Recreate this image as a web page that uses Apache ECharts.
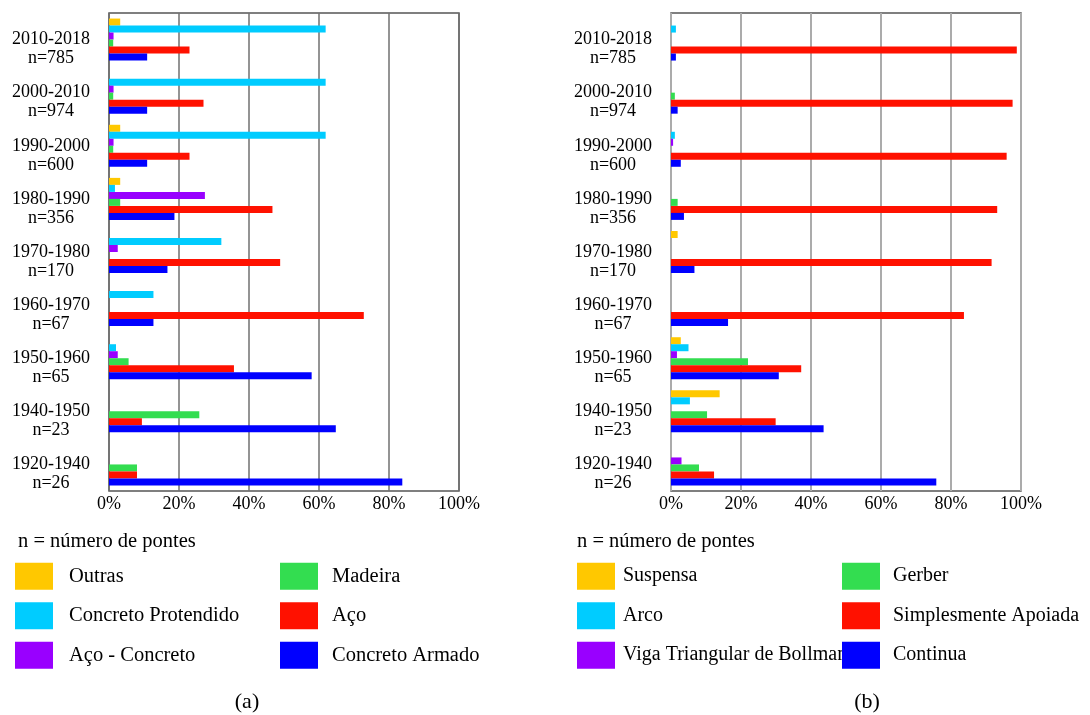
<!DOCTYPE html>
<html>
<head>
<meta charset="utf-8">
<script src="https://cdn.jsdelivr.net/npm/echarts@6/dist/echarts.min.js"></script>
<style>
  html, body { margin: 0; padding: 0; background: #fff; }
  #chart { width: 1090px; height: 715px; }
</style>
</head>
<body>
<div id="chart"></div>
<script>
// Periods (top to bottom) and number of bridges in each period
const periods = ['2010-2018', '2000-2010', '1990-2000', '1980-1990', '1970-1980', '1960-1970', '1950-1960', '1940-1950', '1920-1940'];
const counts = [785, 974, 600, 356, 170, 67, 65, 23, 26];
const tickLabels = ['0%', '20%', '40%', '60%', '80%', '100%'];

// (a) share of bridges by material, %
const outras             = [3.2, 0, 3.2, 3.2, 0, 0, 0, 0, 0];
const concretoProtendido = [61.9, 61.9, 61.9, 1.7, 32.1, 12.7, 2.0, 0, 0];
const acoConcreto        = [1.3, 1.3, 1.3, 27.4, 2.5, 0, 2.5, 0, 0];
const madeira            = [1.2, 1.2, 1.2, 3.2, 0, 0, 5.6, 25.8, 8.0];
const aco                = [23.0, 27.0, 23.0, 46.7, 48.9, 72.8, 35.7, 9.4, 8.0];
const concretoArmado     = [10.9, 10.9, 10.9, 18.7, 16.7, 12.7, 57.9, 64.8, 83.8];

// (b) share of bridges by structural system, %
const suspensa       = [0, 0, 0, 0, 1.9, 0, 2.8, 13.9, 0];
const arco           = [1.4, 0, 1.1, 0, 0, 0, 5.0, 5.4, 0];
const vigaBollman    = [0, 0, 0.6, 0, 0, 0, 1.7, 0, 3.0];
const gerber         = [0, 1.1, 0, 1.9, 0, 0, 22.0, 10.3, 8.0];
const simplesApoiada = [98.8, 97.6, 95.9, 93.2, 91.6, 83.7, 37.2, 29.9, 12.3];
const continua       = [1.4, 1.9, 2.8, 3.7, 6.7, 16.3, 30.8, 43.6, 75.8];

const FONT = '"Liberation Serif", "Times New Roman", serif';
const C = {
  yellow: '#FFC800', cyan: '#00CCFF', purple: '#9900FF',
  green: '#33DD50', red: '#FF1100', blue: '#0000FF'
};

const seriesA = [
  ['Outras', outras, C.yellow],
  ['Concreto Protendido', concretoProtendido, C.cyan],
  ['Aço - Concreto', acoConcreto, C.purple],
  ['Madeira', madeira, C.green],
  ['Aço', aco, C.red],
  ['Concreto Armado', concretoArmado, C.blue]
];
const seriesB = [
  ['Suspensa', suspensa, C.yellow],
  ['Arco', arco, C.cyan],
  ['Viga Triangular de Bollman', vigaBollman, C.purple],
  ['Gerber', gerber, C.green],
  ['Simplesmente Apoiada', simplesApoiada, C.red],
  ['Continua', continua, C.blue]
];

function makeXAxis(gridIndex, gridColor, gridWidth) {
  return {
    type: 'value', gridIndex, min: 0, max: 100, interval: 20,
    axisLine: { show: false }, axisTick: { show: false },
    splitLine: { show: true, lineStyle: { color: gridColor, width: gridWidth } },
    axisLabel: {
      margin: 4, color: '#000', fontFamily: FONT, fontSize: 18,
      formatter: (v) => tickLabels[Math.round(v / 20)]
    }
  };
}
function makeYAxis(gridIndex) {
  return {
    type: 'category', gridIndex, inverse: true, data: periods,
    axisLine: { show: false }, axisTick: { show: false }, splitLine: { show: false },
    axisLabel: {
      interval: 0, align: 'center', margin: 58, color: '#000',
      fontFamily: FONT, fontSize: 18, lineHeight: 19,
      // leading blank line puts the period label on the band centre, count below it
      formatter: (v, i) => '\n' + v + '\nn=' + counts[i]
    }
  };
}
function makeSeries(list, axisIndex) {
  return list.map(([name, data, color]) => ({
    name, type: 'bar', data,
    xAxisIndex: axisIndex, yAxisIndex: axisIndex,
    barWidth: 7, barGap: '0%',
    itemStyle: { color },
    emphasis: { disabled: true }
  }));
}
function makeLegend(names, left, textPad, size) {
  return {
    data: names, orient: 'vertical', left, top: 562.7, padding: 0,
    icon: 'rect', itemWidth: 38, itemHeight: 27, itemGap: 12.5,
    selectedMode: false,
    textStyle: { fontFamily: FONT, fontSize: size, color: '#000', padding: [0, 0, 0, textPad] }
  };
}

const chart = echarts.init(document.getElementById('chart'));
chart.setOption({
  backgroundColor: '#fff',
  animation: false,
  grid: [
    { left: 109, width: 350, top: 13, height: 478, show: true, borderColor: '#555', borderWidth: 1.5, backgroundColor: 'transparent' },
    { left: 671, width: 350, top: 13, height: 478, show: true, borderColor: '#555', borderWidth: 1.5, backgroundColor: 'transparent' }
  ],
  xAxis: [makeXAxis(0, '#707070', 1.5), makeXAxis(1, '#ababab', 2)],
  yAxis: [makeYAxis(0), makeYAxis(1)],
  legend: [
    makeLegend(['Outras', 'Concreto Protendido', 'Aço - Concreto'], 15, 11, 20.5),
    makeLegend(['Madeira', 'Aço', 'Concreto Armado'], 280, 9, 20.5),
    makeLegend(['Suspensa', 'Arco', 'Viga Triangular de Bollman'], 577, 3, 20),
    makeLegend(['Gerber', 'Simplesmente Apoiada', 'Continua'], 842, 8, 20)
  ],
  graphic: [
    { type: 'text', left: 18, top: 531, style: { text: 'n = número de pontes', font: '20.5px ' + FONT, fill: '#000' } },
    { type: 'text', left: 577, top: 531, style: { text: 'n = número de pontes', font: '20.5px ' + FONT, fill: '#000' } },
    { type: 'text', x: 247, y: 702, style: { text: '(a)', font: '22px ' + FONT, fill: '#000', align: 'center', verticalAlign: 'middle' } },
    { type: 'text', x: 867, y: 702, style: { text: '(b)', font: '22px ' + FONT, fill: '#000', align: 'center', verticalAlign: 'middle' } }
  ],
  series: [...makeSeries(seriesA, 0), ...makeSeries(seriesB, 1)]
});
</script>
</body>
</html>
